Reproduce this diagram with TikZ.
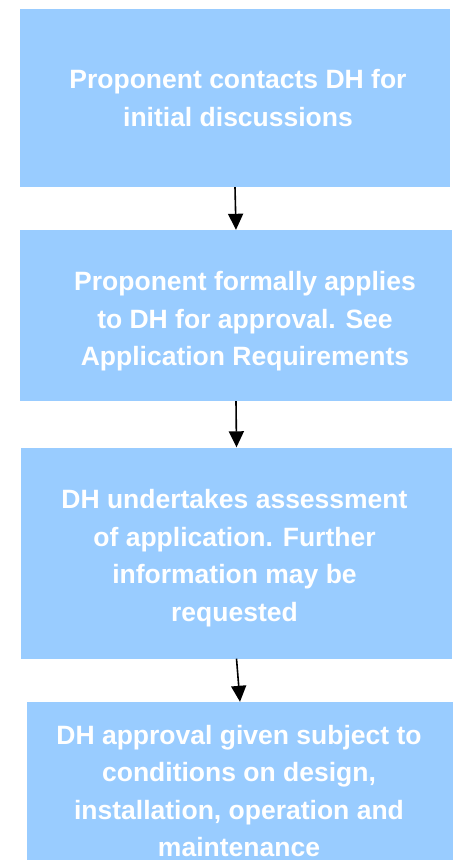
\documentclass[tikz,border=0pt]{standalone}
\usepackage{fontspec}
\setmainfont{Liberation Sans}
\usepackage{xcolor}
\usepackage{tikz}
\usetikzlibrary{arrows.meta}

\definecolor{boxblue}{HTML}{99CCFF}
\tikzset{
  stepbox/.style={rectangle, fill=boxblue, inner sep=0pt},
  steptext/.style={text=white, inner sep=0pt, align=center,
    font=\bfseries\fontsize{26.5}{37.5}\selectfont},
  flowarrow/.style={line width=1.6pt, -{Triangle[width=15pt,length=16pt]}}
}

\begin{document}
\begin{tikzpicture}[x=1pt, y=-1pt]
\useasboundingbox (0,0) rectangle (453,860);
\clip (0,0) rectangle (453,860);
% boxes
\node[stepbox, minimum width=430pt, minimum height=178pt] (contact) at (235,98) {};
\node[stepbox, minimum width=432pt, minimum height=171pt] (apply) at (236,315.5) {};
\node[stepbox, minimum width=431pt, minimum height=211pt] (assess) at (236.5,553) {};
\node[stepbox, minimum width=426pt, minimum height=178pt] (approve) at (240,791) {};
% texts
\node[steptext] (contacttext) at ([shift={(3,0)}]contact.center)
    {Proponent contacts DH for\\initial discussions};
\node[steptext] (applytext) at ([shift={(9,6)}]apply.center)
    {Proponent formally applies\\to DH for approval. See\\Application Requirements};
\node[steptext] (assesstext) at ([shift={(-2,5)}]assess.center)
    {DH undertakes assessment\\of application. Further\\information may be\\requested};
\node[steptext] (approvetext) at ([shift={(-1,0)}]approve.center)
    {DH approval given subject to\\conditions on design,\\installation, operation and\\maintenance};
% arrows
\draw[flowarrow] (contact.south) -- (apply.north);
\draw[flowarrow] (apply.south) -- (assess.north);
\draw[flowarrow] (assess.south) -- (approve.north);
\end{tikzpicture}
\end{document}
